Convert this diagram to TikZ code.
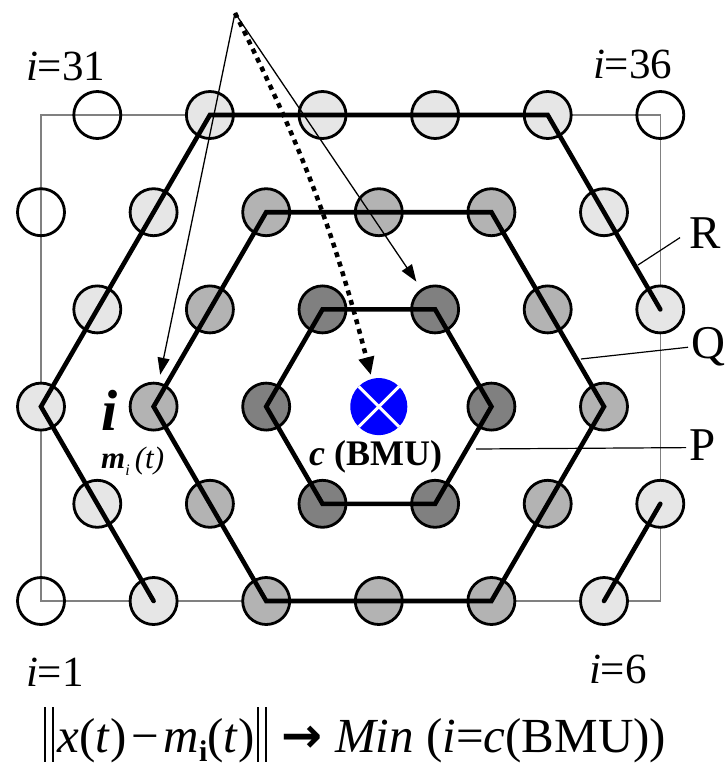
\documentclass[tikz,border=0pt]{standalone}
\usepackage{fontspec}
\setmainfont{Liberation Serif}
\newfontfamily\arrowfont{DejaVu Sans}
\usetikzlibrary{arrows.meta,calc,backgrounds}
\definecolor{lgtc}{HTML}{E6E6E6}
\definecolor{medc}{HTML}{B3B3B3}
\definecolor{drkc}{HTML}{808080}
\definecolor{bmuc}{HTML}{0000FF}
\newcommand{\normbar}{\rule[-0.2em]{0.045em}{1.12em}\hspace{0.12em}\rule[-0.2em]{0.045em}{1.12em}}
\tikzset{
  unit/.style={circle, draw=black, line width=2.8pt, minimum size=47pt, inner sep=0pt, outer sep=0pt},
  wht/.style={unit},
  lgt/.style={unit, fill=lgtc},
  med/.style={unit, fill=medc},
  drk/.style={unit, fill=drkc},
  bmu/.style={circle, fill=bmuc, minimum size=57pt, inner sep=0pt, outer sep=0pt},
  hexline/.style={line width=4.6pt, line join=miter, line cap=round},
  thinarrow/.style={line width=1.3pt, -{Triangle[length=17pt,width=12pt]}},
  dotarrow/.style={line width=4.5pt, dash pattern=on 5pt off 5pt, -{Triangle[length=18pt,width=15pt]}},
  leader/.style={line width=1.2pt},
  frame/.style={line width=1.2pt, draw=drkc},
  lbl/.style={inner sep=0pt, outer sep=0pt, font=\fontsize{43}{48}\selectfont},
  rq/.style={inner sep=0pt, outer sep=0pt, font=\fontsize{47}{52}\selectfont},
}
\begin{document}
\begin{tikzpicture}[x=1pt,y=-1pt]
\useasboundingbox (0,0) rectangle (727,766);
% grid of units
\foreach \r/\c/\s in {
 1/1/wht,1/2/lgt,1/3/med,1/4/med,1/5/med,1/6/lgt,
 2/1/lgt,2/2/med,2/3/drk,2/4/drk,2/5/med,2/6/lgt,
 3/1/lgt,3/2/med,3/3/drk,3/4/bmu,3/5/drk,3/6/med,
 4/1/lgt,4/2/med,4/3/drk,4/4/drk,4/5/med,4/6/lgt,
 5/1/wht,5/2/lgt,5/3/med,5/4/med,5/5/med,5/6/lgt,
 6/1/wht,6/2/lgt,6/3/lgt,6/4/lgt,6/5/lgt,6/6/wht}{
  \pgfmathsetmacro\xx{41+(\c-1)*112.6+56.3*(1-mod(\r,2))}
  \pgfmathsetmacro\yy{601-(\r-1)*97.2}
  \node[\s] (n\r\c) at (\xx,\yy) {};
}
% frame behind
\begin{scope}[on background layer]
  \draw[frame] (n11.center) rectangle (n66.center);
\end{scope}
% BMU cross
\draw[white, line width=3pt] (n34.north west) -- (n34.south east);
\draw[white, line width=3pt] (n34.north east) -- (n34.south west);
% hexagons
\draw[hexline] (n43.center) -- (n44.center) -- (n35.center) -- (n24.center) -- (n23.center) -- (n33.center) -- cycle;
\draw[hexline] (n53.center) -- (n55.center) -- (n36.center) -- (n15.center) -- (n13.center) -- (n32.center) -- cycle;
\draw[hexline] (n12.center) -- (n31.center) -- (n62.center) -- (n65.center) -- (n46.center);
\draw[hexline] (n16.center) -- (n26.center);
% input arrows
\coordinate (src) at (235,13);
\draw[thinarrow, shorten >=9pt] (src) -- (n32);
\draw[thinarrow, shorten >=10pt] (src) -- (n44);
\draw[dotarrow, shorten >=4pt] (src) to[bend left=6] (n34);
% corner labels
\node[lbl, anchor=base west] (l31) at (26,80) {\textit{i}=31};
\node[lbl, anchor=base west] (l36) at (593,78) {\textit{i}=36};
\node[lbl, anchor=base west] (l1) at (26,686) {\textit{i}=1};
\node[lbl, anchor=base west] (l6) at (589,683) {\textit{i}=6};
% ring labels
\node[rq, anchor=base west] (lR) at (689,248) {R};
\node[rq, anchor=base west] (lQ) at (691,358) {Q};
\node[rq, anchor=base west] (lP) at (689,460) {P};
\coordinate (eR) at (638,265);
\coordinate (eQ) at (581,359);
\coordinate (eP) at (476,449);
\draw[leader] ($(lR.west)+(-9,5)$) -- (eR);
\draw[leader] ($(lQ.west)+(-3,1)$) -- (eQ);
\draw[leader] ($(lP.west)+(-3,3)$) -- (eP);
% unit labels
\node[inner sep=0pt, anchor=base west, font=\fontsize{58}{60}\selectfont\bfseries\itshape] (li) at (101,430) {i};
\node[inner sep=0pt, anchor=base west, font=\fontsize{31}{34}\selectfont] (lm) at (101,468) {\textbf{\textit{m}}\raisebox{-0.25em}{\fontsize{16}{18}\selectfont\textit{i}}\,\textit{(t)}};
\node[inner sep=0pt, anchor=base west, font=\fontsize{36}{40}\selectfont\bfseries] (lc) at (309,465) {\textit{c} (BMU)};
% formula
\node[inner sep=0pt, anchor=base west, font=\fontsize{49}{53}\selectfont] (fml) at (44,752) {\normbar\hspace{0.06em}\textit{x}(\textit{t})\hspace{0.1em}−\hspace{0.1em}\textit{m}\raisebox{-0.2em}{\fontsize{30}{32}\selectfont\textbf{i}}(\textit{t})\hspace{0.04em}\normbar\hspace{0.3em}{\arrowfont\bfseries →}\hspace{0.25em}\textit{Min} (\textit{i}=\textit{c}(BMU))};
\end{tikzpicture}
\end{document}
